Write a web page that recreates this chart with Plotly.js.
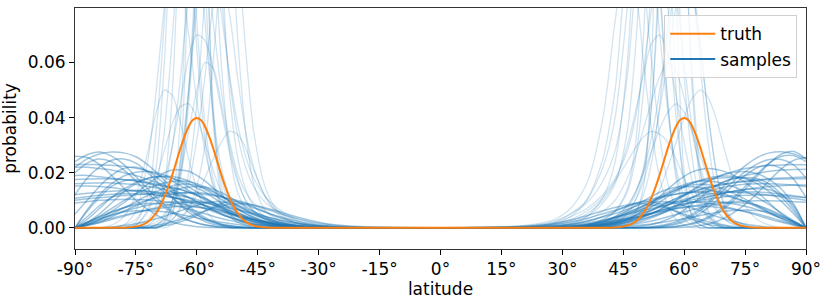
<!DOCTYPE html>
<html>
<head>
<meta charset="utf-8">
<script src="https://cdn.plot.ly/plotly-3.0.1.min.js"></script>
<style>html,body{margin:0;padding:0;background:#fff;}#chart{width:830px;height:304px;}</style>
</head>
<body>
<div id="chart"></div>
<script>
// absolute latitude grid (equator -> pole) on which sample curves are read
const LAT_ABS = [0,18,24,28,32,36,40,43,46,48,50,52,54,56,58,60,62,64,66,68,70,72,75,78,81,84,87,90];

// sample curves read from the southern half (plotted at -LAT_ABS)
const SOUTH_SAMPLES = [
  [0,0,0,0,0,0,.001,.002,.004,.007,.013,.028,.06,.11,.14,.1,.05,.02,.008,.003,.001,0,0,0,0,0,0,0],
  [0,0,0,0,0,.0005,.001,.002,.003,.004,.007,.012,.022,.042,.075,.11,.13,.11,.07,.035,.015,.006,.001,0,0,0,0,0],
  [0,0,0,0,0,.001,.003,.006,.016,.035,.07,.12,.15,.13,.085,.045,.02,.008,.003,.001,0,0,0,0,0,0,0,0],
  [0,0,0,0,0,0,0,0,.001,.002,.003,.006,.015,.045,.12,.2,.11,.04,.01,.002,0,0,0,0,0,0,0,0],
  [0,0,0,0,0,0,0,0,0,.001,.002,.004,.008,.015,.032,.065,.11,.14,.12,.075,.035,.012,.002,0,0,0,0,0],
  [0,0,0,0,.001,.002,.006,.014,.035,.065,.1,.115,.095,.06,.03,.015,.007,.003,.001,0,0,0,0,0,0,0,0,0],
  [0,0,0,0,0,.0005,.0015,.003,.006,.01,.018,.03,.045,.058,.06,.05,.035,.02,.01,.005,.002,.001,0,0,0,0,0,0],
  [0,0,0,0,0,0,0,0,0,0,0,0,.001,.003,.007,.014,.025,.038,.048,.05,.042,.028,.012,.004,.001,0,0,0],
  [0,0,0,.0002,.0007,.002,.005,.011,.021,.029,.034,.035,.031,.025,.018,.012,.007,.004,.002,.001,0,0,0,0,0,0,0,0],
  [0,0,0,.0005,.001,.002,.004,.006,.009,.013,.02,.032,.05,.075,.095,.1,.085,.055,.03,.014,.006,.002,0,0,0,0,0,0],
  [0,0,0,0,0,0,0,0,.001,.002,.004,.007,.013,.021,.031,.04,.045,.044,.038,.028,.018,.01,.003,.001,0,0,0,0],
  [0,0,0,0,0,0,.0005,.001,.002,.003,.005,.009,.018,.04,.09,.15,.18,.12,.05,.015,.004,.001,0,0,0,0,0,0],
  [0,0,0,0,.0003,.001,.002,.004,.008,.014,.026,.05,.1,.15,.14,.09,.045,.018,.006,.002,0,0,0,0,0,0,0,0],
  [0,0,0,0,0,0,0,0,.001,.002,.003,.005,.009,.016,.028,.046,.07,.09,.1,.08,.05,.025,.006,.001,0,0,0,0],
  [0,0,0,0,0,0,0,0,0,.001,.002,.005,.012,.04,.14,.23,.1,.025,.005,.001,0,0,0,0,0,0,0,0],
  [0,0,0,.0005,.001,.003,.006,.011,.022,.035,.055,.078,.09,.08,.055,.032,.016,.007,.003,.001,0,0,0,0,0,0,0,0],
  [0,0,0,0,0,.0005,.0015,.003,.006,.01,.017,.028,.043,.058,.068,.07,.062,.046,.03,.017,.008,.003,.001,0,0,0,0,0],
  [0,0,.0002,.0006,.0015,.003,.006,.009,.015,.022,.034,.055,.085,.115,.12,.09,.05,.022,.008,.003,.001,0,0,0,0,0,0,0],
  [0,0,0,0,0,0,.0003,.0007,.0014,.002,.003,.005,.009,.018,.038,.075,.13,.16,.12,.06,.022,.007,.001,0,0,0,0,0],
  [0,0,.0003,.0008,.0018,.0035,.007,.011,.018,.026,.038,.056,.078,.096,.1,.08,.05,.025,.01,.004,.001,0,0,0,0,0,0,0],
  [0,0,0,0,.0001,.0003,.0008,.0014,.0024,.0033,.0045,.006,.0075,.009,.0105,.012,.013,.014,.0145,.015,.0155,.016,.017,.0175,.018,.0185,.019,.019],
  [0,0,0,0,0,.0001,.0004,.0008,.0014,.002,.0028,.0038,.005,.0065,.008,.0095,.011,.012,.013,.014,.0145,.015,.0157,.016,.0163,.0163,.0162,.016],
  [0,0,0,0,0,.0001,.0004,.0008,.0014,.002,.0028,.0038,.005,.0065,.008,.0095,.011,.0125,.014,.0155,.0165,.0175,.019,.02,.021,.0215,.022,.022],
  [0,0,0,.0001,.0003,.0007,.0015,.0023,.0034,.0043,.0052,.0062,.0072,.0083,.0093,.0102,.011,.0116,.0122,.0127,.013,.0133,.0135,.0135,.0133,.013,.0125,.012],
  [0,0,.0001,.0002,.0004,.0008,.0015,.0022,.003,.0036,.0042,.0049,.0056,.0063,.007,.0076,.0082,.0087,.0091,.0095,.0098,.0101,.0103,.0103,.0102,.01,.0095,.009],
  [0,0,0,.0001,.0002,.0005,.0011,.0019,.003,.004,.0051,.0064,.0078,.0092,.0106,.0118,.0129,.0138,.0146,.0153,.0159,.0164,.017,.0174,.0177,.0178,.0177,.0175],
  [0,0,0,.0001,.0003,.0006,.0013,.002,.0029,.0036,.0044,.0053,.0062,.0071,.008,.0089,.0097,.0104,.011,.0115,.0119,.0122,.0124,.0124,.0122,.0118,.0113,.0107],
  [0,0,0,0,.0001,.0003,.0008,.0014,.0023,.0031,.0041,.0053,.0067,.0083,.01,.0118,.0136,.0153,.0169,.0183,.0195,.0205,.0216,.0223,.0227,.0229,.023,.023],
  [0,.0002,.0006,.0012,.0022,.0036,.0054,.0068,.0082,.0091,.0099,.0106,.0112,.0117,.0121,.0124,.0126,.0127,.0127,.0126,.0125,.0123,.012,.0117,.0113,.0109,.0105,.01],
  [0,.0001,.0002,.0005,.001,.0018,.003,.004,.0051,.0058,.0065,.0072,.0078,.0084,.009,.0095,.01,.0105,.011,.0115,.012,.0125,.0133,.014,.0146,.015,.0152,.0152],
  [0,0,0,0,.0001,.0003,.0009,.0017,.003,.0042,.0056,.0072,.009,.011,.013,.0145,.016,.017,.018,.0185,.0185,.018,.016,.013,.009,.005,.002,0],
  [0,0,0,0,0,.0003,.001,.002,.0036,.0052,.0072,.0095,.012,.0145,.017,.019,.0205,.021,.021,.02,.018,.016,.0125,.009,.006,.003,.001,0],
  [0,0,0,0,.0002,.0005,.0013,.0024,.0039,.0052,.0068,.0085,.0103,.0122,.014,.0155,.017,.018,.0186,.0188,.0185,.018,.0165,.014,.011,.007,.003,0],
  [0,0,0,.0001,.0003,.0009,.0022,.0038,.006,.0077,.0095,.0112,.0128,.014,.0148,.015,.0148,.0143,.0135,.0125,.0113,.01,.008,.006,.004,.002,.001,0],
  [0,0,0,0,.0001,.0003,.0007,.0012,.0019,.0025,.0032,.004,.0049,.0059,.007,.0081,.0092,.0102,.0112,.012,.0127,.0132,.0135,.013,.011,.008,.004,0],
  [0,0,0,0,0,.0002,.0006,.0012,.0022,.0031,.0042,.0056,.0072,.0091,.011,.013,.0148,.0165,.018,.0192,.02,.0204,.0202,.0188,.016,.012,.0065,0],
  [0,0,0,.0001,.0003,.0008,.0018,.003,.0048,.0063,.008,.0098,.0116,.0133,.0148,.016,.0168,.0171,.0169,.0163,.0154,.0143,.0123,.0098,.007,.0042,.0018,0],
  [0,.0001,.0003,.0007,.0014,.0026,.0042,.0056,.0072,.0083,.0094,.0104,.0113,.012,.0125,.0128,.0128,.0126,.0122,.0116,.0109,.0101,.0088,.0073,.0056,.0038,.002,0],
  [0,0,.0001,.0003,.0007,.0015,.0028,.0041,.0058,.007,.0084,.0099,.0115,.013,.0143,.0153,.0158,.0158,.0153,.0144,.0132,.0118,.0095,.0072,.0049,.0028,.0011,0],
  [0,0,0,0,0,0,0,0,0,0,0,.0001,.0003,.0006,.0011,.0018,.0028,.0042,.006,.0083,.011,.014,.0185,.023,.026,.0275,.0265,.024],
  [0,0,0,0,0,0,0,0,0,0,.0001,.0003,.0007,.0013,.0023,.0037,.0056,.008,.011,.014,.017,.02,.0235,.025,.0245,.022,.018,.012],
  [0,0,0,0,0,0,0,0,0,0,0,.0001,.0003,.0006,.001,.0017,.0026,.0038,.0054,.0074,.0098,.0125,.017,.021,.024,.025,.0235,.02],
  [0,0,0,0,0,0,0,0,0,.0001,.0003,.0006,.0011,.002,.0032,.005,.0072,.01,.013,.016,.0185,.0205,.022,.0215,.019,.015,.01,.005],
  [0,0,0,0,0,0,0,0,0,0,0,0,0,.0001,.0002,.0004,.0008,.0013,.0021,.0032,.0047,.0066,.01,.0145,.019,.023,.0255,.026],
  [0,0,0,0,0,0,0,0,.0001,.0002,.0004,.0007,.0012,.002,.0031,.0046,.0064,.0085,.0108,.013,.015,.0165,.0175,.017,.015,.011,.006,0],
  [0,0,0,0,0,0,0,0,.0001,.0002,.0004,.0008,.0014,.0024,.0038,.0056,.008,.0108,.014,.0172,.0202,.0228,.0258,.0272,.0275,.0268,.025,.022],
  [0,0,0,0,.0001,.0004,.001,.0018,.0028,.0036,.0045,.0055,.0065,.0074,.0082,.0088,.0092,.0094,.0094,.0092,.0088,.0082,.0072,.006,.0045,.003,.0015,0],
  [0,0,0,.0001,.0004,.001,.0022,.0034,.0048,.0058,.0068,.0077,.0085,.009,.0093,.0094,.0093,.009,.0086,.008,.0073,.0066,.0054,.0042,.003,.0018,.0008,0],
  [0,0,0,0,0,.0001,.0004,.0007,.0012,.0016,.0021,.0027,.0034,.0042,.0051,.006,.0068,.0076,.0082,.0086,.0088,.0088,.0083,.0073,.0058,.004,.002,0],
  [0,0,0,.0001,.0003,.0008,.0019,.0033,.0052,.0066,.008,.009,.0095,.0095,.009,.0082,.0072,.0062,.0052,.0042,.0033,.0025,.0015,.0008,.0003,0,0,0],
  [0,0,.0002,.0005,.001,.002,.0038,.0056,.0076,.0088,.0095,.0095,.0088,.0075,.006,.0045,.0032,.0022,.0014,.0008,.0004,.0002,0,0,0,0,0,0],
  [0,0,0,0,.0002,.0005,.0012,.002,.003,.0038,.0046,.0054,.0061,.0067,.0072,.0075,.0077,.0077,.0076,.0073,.0069,.0064,.0056,.0046,.0035,.0023,.0011,0],
  [0,0,0,0,0,.0001,.0002,.0004,.0007,.0009,.0012,.0016,.002,.0025,.003,.0036,.0042,.0048,.0053,.0058,.0061,.0063,.0062,.0057,.0047,.0033,.0017,0],
  [0,.0003,.0008,.0015,.0027,.0042,.006,.0072,.0082,.0086,.0087,.0085,.008,.0072,.0062,.0051,.004,.003,.0022,.0015,.001,.0006,.0003,.0001,0,0,0,0]
];

// sample curves read from the northern half (plotted at +LAT_ABS)
const NORTH_SAMPLES = [
  [0,0,0,0,.0005,.001,.003,.006,.013,.025,.05,.09,.13,.135,.1,.055,.025,.01,.004,.0015,.0005,0,0,0,0,0,0,0],
  [0,0,.0003,.001,.002,.004,.009,.016,.035,.065,.11,.15,.13,.08,.04,.018,.008,.003,.001,0,0,0,0,0,0,0,0,0],
  [0,0,0,0,0,0,.001,.002,.005,.01,.02,.045,.1,.17,.2,.12,.05,.016,.005,.001,0,0,0,0,0,0,0,0],
  [0,.0003,.001,.002,.005,.01,.022,.04,.08,.11,.12,.1,.07,.042,.022,.011,.005,.002,.001,0,0,0,0,0,0,0,0,0],
  [0,0,0,0,0,0,0,.001,.003,.006,.012,.024,.045,.075,.1,.11,.09,.058,.03,.013,.005,.002,0,0,0,0,0,0],
  [0,0,.0003,.0008,.0015,.003,.006,.01,.018,.026,.036,.046,.055,.06,.057,.047,.034,.022,.013,.007,.003,.0012,.0003,0,0,0,0,0],
  [0,0,0,0,0,0,0,0,.001,.002,.004,.008,.014,.022,.031,.04,.047,.05,.047,.039,.028,.018,.008,.003,.001,0,0,0],
  [0,.0002,.0007,.0015,.003,.006,.011,.017,.024,.029,.033,.035,.034,.031,.025,.018,.012,.007,.004,.002,.001,0,0,0,0,0,0,0],
  [0,.0005,.001,.002,.004,.007,.012,.018,.028,.04,.058,.08,.098,.1,.085,.06,.036,.02,.011,.006,.003,.0015,.0005,0,0,0,0,0],
  [0,0,0,0,0,.001,.002,.004,.008,.013,.02,.028,.036,.042,.045,.042,.035,.026,.018,.011,.006,.003,.001,0,0,0,0,0],
  [0,0,.0005,.0015,.004,.01,.025,.05,.09,.085,.06,.035,.018,.008,.003,.001,0,0,0,0,0,0,0,0,0,0,0,0],
  [0,0,0,0,.0005,.001,.003,.006,.014,.03,.07,.14,.18,.12,.05,.015,.004,.001,0,0,0,0,0,0,0,0,0,0],
  [0,0,0,0,0,.0005,.0015,.003,.007,.012,.022,.045,.09,.145,.16,.11,.055,.02,.006,.002,0,0,0,0,0,0,0,0],
  [0,.0005,.0015,.003,.007,.016,.04,.075,.105,.11,.09,.06,.033,.016,.007,.003,.001,0,0,0,0,0,0,0,0,0,0,0],
  [0,0,0,0,0,0,.0005,.001,.002,.005,.015,.06,.18,.22,.09,.02,.004,.001,0,0,0,0,0,0,0,0,0,0],
  [0,0,0,0,0,.0005,.0015,.003,.006,.01,.017,.028,.043,.062,.08,.09,.085,.065,.04,.02,.008,.003,.001,0,0,0,0,0],
  [0,.0002,.0006,.0012,.0025,.005,.01,.017,.03,.042,.056,.067,.07,.063,.048,.031,.017,.008,.003,.001,0,0,0,0,0,0,0,0],
  [0,.0005,.0012,.0025,.005,.009,.017,.028,.055,.09,.125,.12,.085,.045,.02,.008,.003,.001,0,0,0,0,0,0,0,0,0,0],
  [0,0,.0002,.0006,.0015,.004,.011,.024,.06,.11,.155,.14,.09,.045,.018,.006,.002,0,0,0,0,0,0,0,0,0,0,0],
  [0,0,0,0,.0003,.0008,.002,.004,.008,.013,.021,.033,.05,.07,.09,.1,.09,.066,.04,.019,.007,.002,0,0,0,0,0,0],
  [0,0,0,0,.0001,.0003,.0009,.0016,.0026,.0035,.0047,.0062,.0077,.0092,.0107,.0121,.0132,.0141,.0148,.0154,.0159,.0164,.017,.0174,.0178,.0181,.0183,.0184],
  [0,0,0,0,0,.0002,.0005,.001,.0016,.0023,.0031,.0041,.0053,.0067,.0082,.0097,.0111,.0123,.0133,.0141,.0148,.0153,.0158,.016,.016,.0158,.0155,.015],
  [0,0,0,0,0,.0001,.0003,.0007,.0012,.0018,.0026,.0036,.0048,.0062,.0078,.0094,.011,.0126,.0142,.0156,.0168,.0178,.019,.0198,.0205,.021,.0212,.0213],
  [0,0,.0001,.0002,.0004,.0008,.0016,.0025,.0036,.0045,.0055,.0065,.0075,.0085,.0094,.0103,.011,.0116,.0121,.0125,.0128,.013,.0131,.013,.0127,.0122,.0116,.011],
  [0,.0001,.0002,.0004,.0007,.0012,.002,.0027,.0034,.0039,.0045,.0051,.0057,.0063,.0069,.0074,.0079,.0083,.0087,.009,.0093,.0095,.0097,.0098,.0098,.0097,.0095,.0093],
  [0,0,0,.0001,.0002,.0005,.0012,.002,.0031,.0041,.0052,.0065,.0079,.0093,.0106,.0118,.0129,.0138,.0146,.0152,.0158,.0163,.0168,.0172,.0175,.0177,.0178,.0178],
  [0,0,0,.0001,.0003,.0007,.0014,.0021,.003,.0037,.0045,.0053,.0062,.007,.0078,.0086,.0093,.0099,.0104,.0109,.0113,.0116,.0118,.0119,.0118,.0116,.0113,.0109],
  [0,0,0,0,.0001,.0003,.0008,.0014,.0022,.003,.004,.0052,.0066,.0082,.0099,.0117,.0135,.0152,.0168,.0182,.0194,.0204,.0215,.0222,.0226,.0228,.0229,.0229],
  [0,.0002,.0006,.0012,.0021,.0034,.0051,.0064,.0078,.0088,.0097,.0105,.0112,.0118,.0123,.0127,.013,.0132,.0133,.0133,.0132,.013,.0127,.0123,.0118,.0112,.0106,.01],
  [0,.0001,.0002,.0005,.001,.0017,.0028,.0038,.0049,.0056,.0063,.007,.0077,.0084,.009,.0096,.0102,.0108,.0114,.012,.0126,.0132,.0139,.0145,.015,.0153,.0155,.0155],
  [0,0,0,0,.0001,.0004,.001,.0019,.0032,.0045,.006,.0076,.0094,.0113,.0132,.0148,.0162,.0173,.0181,.0186,.0188,.0187,.0179,.016,.013,.0095,.005,0],
  [0,0,0,0,0,.0002,.0008,.0017,.0031,.0046,.0065,.0088,.0114,.0141,.0166,.0187,.0203,.0212,.0215,.0212,.0204,.0192,.0165,.013,.009,.005,.002,0],
  [0,0,0,0,.0002,.0006,.0014,.0025,.004,.0054,.007,.0087,.0104,.0122,.0138,.0151,.0162,.017,.0176,.018,.0182,.0183,.018,.017,.0148,.011,.006,0],
  [0,0,0,.0001,.0004,.001,.0024,.004,.0062,.008,.0098,.0114,.0129,.014,.0147,.015,.0149,.0145,.0139,.0131,.0122,.0112,.0095,.0075,.0055,.0035,.0017,0],
  [0,0,0,0,.0001,.0003,.0008,.0013,.002,.0027,.0034,.0042,.0051,.0061,.0072,.0083,.0093,.0103,.0112,.012,.0127,.0133,.0139,.0142,.0138,.012,.008,0],
  [0,0,0,0,0,.0002,.0006,.0012,.0021,.003,.004,.0052,.0066,.0082,.01,.0119,.0138,.0156,.0172,.0185,.0195,.0201,.0204,.0196,.0175,.014,.0085,0],
  [0,0,0,.0001,.0003,.0008,.0018,.003,.0047,.0062,.0078,.0095,.0113,.0129,.0144,.0156,.0165,.017,.017,.0166,.0159,.015,.0132,.011,.0083,.0053,.0025,0],
  [0,.0001,.0003,.0007,.0013,.0024,.0039,.0052,.0067,.0078,.0089,.0099,.0108,.0116,.0122,.0126,.0128,.0128,.0126,.0122,.0116,.0109,.0096,.008,.0062,.0042,.0022,0],
  [0,0,.0001,.0003,.0007,.0014,.0026,.0038,.0054,.0066,.0079,.0093,.0108,.0123,.0137,.0148,.0155,.0158,.0156,.015,.0139,.0126,.0104,.008,.0055,.0032,.0013,0],
  [0,0,0,0,0,0,0,0,0,0,0,0,.0001,.0002,.0004,.0008,.0014,.0023,.0035,.0051,.0072,.0097,.014,.0188,.0235,.0268,.0277,.025],
  [0,0,0,0,0,0,0,0,0,0,.0001,.0002,.0005,.001,.0017,.0028,.0043,.0063,.0087,.0114,.0141,.0167,.0203,.0232,.0248,.0248,.0228,.018],
  [0,0,0,0,0,0,0,0,0,0,0,0,.0001,.0003,.0006,.001,.0017,.0027,.004,.0058,.008,.0106,.015,.0196,.0236,.026,.0262,.024],
  [0,0,0,0,0,0,0,0,0,0,0,.0001,.0003,.0007,.0013,.0022,.0035,.0052,.0074,.0099,.0126,.0153,.019,.0218,.0228,.0215,.0175,.011],
  [0,0,0,0,0,0,0,0,0,0,0,0,0,0,.0001,.0002,.0004,.0008,.0014,.0023,.0036,.0053,.0085,.0125,.0172,.0215,.0245,.0255],
  [0,0,0,0,0,0,0,.0001,.0002,.0004,.0007,.0012,.002,.0031,.0046,.0065,.0087,.011,.0133,.0153,.0168,.0178,.0183,.0178,.0158,.0122,.007,0],
  [0,0,0,0,0,0,0,0,0,.0001,.0002,.0004,.0008,.0014,.0022,.0034,.005,.007,.0095,.0124,.0155,.0185,.0225,.0255,.0272,.0276,.0268,.025],
  [0,0,0,0,.0001,.0004,.001,.0017,.0026,.0034,.0043,.0053,.0063,.0072,.008,.0087,.0092,.0095,.0096,.0095,.0092,.0087,.0078,.0066,.0051,.0035,.0018,0],
  [0,0,0,.0001,.0004,.0011,.0023,.0036,.005,.006,.007,.0079,.0087,.0092,.0095,.0096,.0095,.0092,.0088,.0083,.0077,.007,.0058,.0045,.0032,.002,.0009,0],
  [0,0,0,0,0,.0001,.0003,.0006,.001,.0014,.0019,.0025,.0032,.004,.0048,.0057,.0065,.0073,.008,.0085,.0089,.0091,.009,.0082,.0066,.0046,.0023,0],
  [0,0,0,.0001,.0004,.001,.0022,.0036,.0055,.0068,.0081,.009,.0095,.0094,.0088,.008,.0071,.0061,.0051,.0041,.0032,.0024,.0014,.0007,.0002,0,0,0],
  [0,0,.0003,.0006,.0012,.0023,.0041,.006,.0078,.0089,.0095,.0094,.0086,.0073,.0058,.0044,.0031,.0021,.0013,.0007,.0003,.0001,0,0,0,0,0,0],
  [0,0,0,0,.0002,.0005,.0012,.002,.0029,.0037,.0045,.0053,.006,.0066,.0071,.0075,.0077,.0078,.0077,.0075,.0072,.0067,.006,.005,.0038,.0025,.0012,0],
  [0,0,0,0,0,.0001,.0002,.0004,.0006,.0008,.0011,.0014,.0018,.0023,.0028,.0033,.0039,.0045,.0051,.0056,.006,.0063,.0065,.0063,.0055,.0041,.0022,0],
  [0,.0003,.0008,.0016,.0028,.0044,.0062,.0074,.0083,.0087,.0087,.0084,.0078,.007,.006,.0049,.0039,.0029,.0021,.0014,.0009,.0005,.0002,.0001,0,0,0,0]
];

// truth curve
const TRUTH_LAT = [-90,-80,-78,-76,-74,-72,-70,-69,-68,-67,-66,-65,-64,-63,-62,-61,-60,-59,-58,-57,-56,-55,-54,-53,-52,-51,-50,-48,-46,-44,-42,-40,-30,0,
                   30,40,42,44,46,48,50,51,52,53,54,55,56,57,58,59,60,61,62,63,64,65,66,67,68,69,70,72,74,76,78,80,90];
const TRUTH_P = [0,0,.00006,.00024,.0008,.0022,.0054,.0079,.0111,.015,.0194,.0242,.029,.0333,.0368,.0391,.0399,.0391,.0368,.0333,.029,.0242,.0194,.015,.0111,.0079,.0054,.0022,.0008,.00024,.00006,0,0,0,
                 0,0,.00006,.00024,.0008,.0022,.0054,.0079,.0111,.015,.0194,.0242,.029,.0333,.0368,.0391,.0399,.0391,.0368,.0333,.029,.0242,.0194,.015,.0111,.0079,.0054,.0022,.0008,.00024,.00006,0,0];

const X_TICKS = [-90,-75,-60,-45,-30,-15,0,15,30,45,60,75,90];
const X_TICK_TEXT = ['-90°','-75°','-60°','-45°','-30°','-15°','0°','15°','30°','45°','60°','75°','90°'];
const Y_TICKS = [0,0.02,0.04,0.06];

const BLUE = '#1f77b4';
const ORANGE = '#ff7f0e';
const TALL_LINE = {color: 'rgba(31,119,180,0.2)', width: 1.3, shape: 'spline', smoothing: 0.8};
const LOW_LINE = {color: 'rgba(31,119,180,0.42)', width: 1.5, shape: 'spline', smoothing: 0.8};

const traces = [];
function addSample(xs, p) {
  const tall = Math.max.apply(null, p) > 0.03;
  traces.push({x: xs, y: p, type: 'scatter', mode: 'lines',
    line: tall ? TALL_LINE : LOW_LINE, showlegend: false, hoverinfo: 'skip'});
}
const SOUTH_X = LAT_ABS.map(v => -v);
SOUTH_SAMPLES.forEach(p => addSample(SOUTH_X, p));
NORTH_SAMPLES.forEach(p => addSample(LAT_ABS, p));
traces.push({x: TRUTH_LAT, y: TRUTH_P, type: 'scatter', mode: 'lines', name: 'truth',
  line: {color: ORANGE, width: 2, shape: 'spline', smoothing: 0.6}, legendrank: 1});
traces.push({x: [null], y: [null], type: 'scatter', mode: 'lines', name: 'samples',
  line: {color: BLUE, width: 2}, legendrank: 2});

const font = {family: 'DejaVu Sans', size: 17, color: '#000'};
const layout = {
  width: 830, height: 304,
  margin: {l: 75, r: 24, t: 8, b: 55},
  paper_bgcolor: '#fff', plot_bgcolor: '#fff',
  font: font,
  showlegend: true,
  legend: {x: 0.988, y: 0.97, xanchor: 'right', yanchor: 'top',
    bgcolor: 'rgba(255,255,255,0.8)', bordercolor: '#d0d0d0', borderwidth: 1,
    itemwidth: 45,
    font: {family: 'DejaVu Sans', size: 17, color: '#000'}, tracegroupgap: 2},
  xaxis: {range: [-90, 90], tickvals: X_TICKS, ticktext: X_TICK_TEXT,
    ticks: 'outside', ticklen: 5, tickcolor: '#000', tickfont: font,
    showline: true, linecolor: '#333', linewidth: 1, mirror: true,
    showgrid: false, zeroline: false,
    title: {text: 'latitude', font: font, standoff: 2}},
  yaxis: {range: [-0.0077, 0.0798], tickvals: Y_TICKS, tickformat: '.2f',
    ticks: 'outside', ticklen: 5, tickcolor: '#000', tickfont: font,
    showline: true, linecolor: '#333', linewidth: 1, mirror: true,
    showgrid: false, zeroline: false,
    title: {text: 'probability', font: font, standoff: 6}}
};
Plotly.newPlot('chart', traces, layout, {displayModeBar: false, staticPlot: true});
</script>
</body>
</html>
